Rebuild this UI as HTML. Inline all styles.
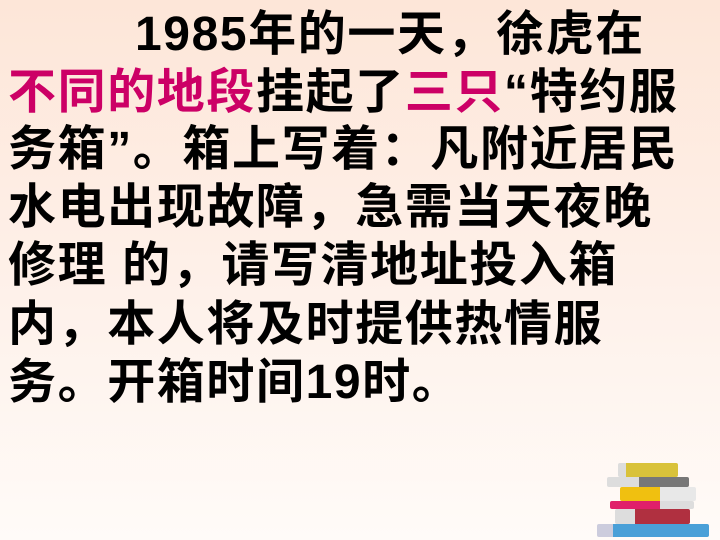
<!DOCTYPE html>
<html><head><meta charset="utf-8"><style>
html,body{margin:0;padding:0}
body{width:720px;height:540px;overflow:hidden;position:relative;background:linear-gradient(#fde6d8,#fef1ea 55%,#fffbf8);font-family:"Liberation Sans","Noto Sans CJK SC",sans-serif;}
.l{position:absolute;left:8px;height:58px;line-height:58px;font-size:48px;font-weight:bold;color:#000;white-space:nowrap;letter-spacing:1.6px}
.r{color:#cc0066}
.b{position:absolute;border-radius:2px;box-sizing:border-box}
</style></head><body>
<div class="l" style="top:6px;left:135px">1985年的一天，徐虎在</div>
<div class="l" style="top:64px"><span class="r">不同的地段</span>挂起了<span class="r">三只</span>“特约服</div>
<div class="l" style="top:121px">务箱”。箱上写着：凡附近居民</div>
<div class="l" style="top:179px">水电出现故障，急需当天夜晚</div>
<div class="l" style="top:237px">修理 的，请写清地址投入箱</div>
<div class="l" style="top:296px">内，本人将及时提供热情服</div>
<div class="l" style="top:354px">务。开箱时间19时。</div>
<div style="position:absolute;left:560px;top:430px;width:160px;height:110px">
<div class="b" style="left:58px;top:33px;width:60px;height:14px;background:#d9c23a;border-left:8px solid #ddd"></div>
<div class="b" style="left:47px;top:47px;width:82px;height:10px;background:#777;border-left:32px solid #ddd"></div>
<div class="b" style="left:60px;top:57px;width:76px;height:14px;background:#f0c010;border-right:36px solid #e8e8e8"></div>
<div class="b" style="left:50px;top:71px;width:84px;height:8px;background:#e0206a;border-right:34px solid #ddd"></div>
<div class="b" style="left:55px;top:79px;width:75px;height:15px;background:#b03040;border-left:20px solid #ddd"></div>
<div class="b" style="left:37px;top:94px;width:112px;height:13px;background:#4aa0d8;border-left:16px solid #ccd"></div>
</div>
</body></html>
